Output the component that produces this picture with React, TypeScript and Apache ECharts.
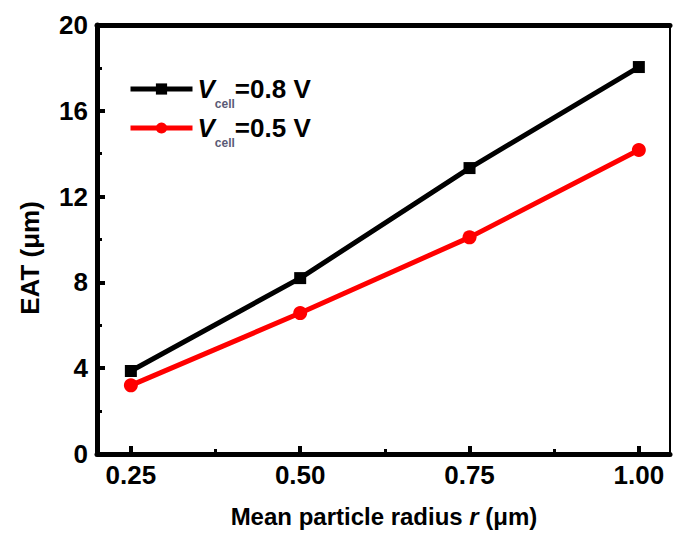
import React, { useEffect, useRef } from "react";
import * as echarts from "echarts";

const radius = [0.25, 0.5, 0.75, 1.0];
const eat08 = [3.87, 8.2, 13.33, 18.04];
const eat05 = [3.2, 6.57, 10.1, 14.17];
const xTickValues = [0.25, 0.5, 0.75, 1.0];
const xMinorValues = [0.375, 0.625, 0.875];
const seriesNames = ["V08", "V05"];
const legendLabels: Record<string, string> = {
  V08: "{v|V}{s|cell}{t|=0.8 V}",
  V05: "{v|V}{s|cell}{t|=0.5 V}",
};

const FONT = "Liberation Sans, Arial, sans-serif";
const X_MIN = 0.2;
const X_MAX = 1.046;

const legendRich = {
  v: { fontSize: 26, fontWeight: "bold", fontStyle: "italic", color: "#000", fontFamily: FONT },
  s: { fontSize: 12, fontWeight: "bold", color: "#5a5a76", fontFamily: FONT, padding: [30, 0, 0, 0] },
  t: { fontSize: 26, fontWeight: "bold", color: "#000", fontFamily: FONT },
};

function makeLegend(name: string, top: number) {
  return {
    left: 128,
    top,
    orient: "vertical",
    itemWidth: 62,
    itemHeight: 14,
    itemGap: 6,
    padding: 0,
    data: [name],
    lineStyle: { width: 5 },
    formatter: (n: string) => legendLabels[n],
    textStyle: { fontFamily: FONT, rich: legendRich },
  };
}

export default function App() {
  const ref = useRef<HTMLDivElement>(null);
  useEffect(() => {
    if (!ref.current) return;
    const chart = echarts.init(ref.current, null, { renderer: "svg" });
    chart.setOption({
      animation: false,
      backgroundColor: "#fff",
      grid: { left: 97, top: 25, right: 3, bottom: 81, containLabel: false },
      legend: [makeLegend(seriesNames[0], 76), makeLegend(seriesNames[1], 115)],
      xAxis: [
        {
          type: "value",
          min: X_MIN,
          max: X_MAX,
          axisLine: { show: true, onZero: false, lineStyle: { color: "#000", width: 5 } },
          splitLine: { show: false },
          axisTick: { inside: true, length: 8, lineStyle: { width: 4, color: "#000" }, customValues: xTickValues },
          axisLabel: {
            customValues: xTickValues,
            formatter: (v: number) => v.toFixed(2),
            margin: 8,
            fontSize: 26,
            fontWeight: "bold",
            color: "#000",
            fontFamily: FONT,
          },
        },
        {
          type: "value",
          position: "bottom",
          min: X_MIN,
          max: X_MAX,
          axisLine: { show: false, onZero: false },
          splitLine: { show: false },
          axisTick: { show: true, inside: true, length: 5, lineStyle: { width: 3, color: "#000" }, customValues: xMinorValues },
          axisLabel: { show: false, customValues: xMinorValues },
        },
        {
          type: "value",
          position: "top",
          min: X_MIN,
          max: X_MAX,
          axisLine: { show: true, onZero: false, lineStyle: { color: "#000", width: 5 } },
          splitLine: { show: false },
          axisTick: { show: false },
          axisLabel: { show: false },
        },
      ],
      yAxis: [
        {
          type: "value",
          position: "left",
          min: 0,
          max: 20,
          interval: 4,
          axisLine: { show: true, onZero: false, lineStyle: { color: "#000", width: 5 } },
          splitLine: { show: false },
          axisTick: { inside: true, length: 8, lineStyle: { width: 4, color: "#000" } },
          minorTick: { show: true, splitNumber: 2, length: 5, lineStyle: { width: 3, color: "#000" } },
          axisLabel: {
            margin: 9,
            fontSize: 26,
            fontWeight: "bold",
            color: "#000",
            fontFamily: FONT,
          },
        },
        {
          type: "value",
          position: "right",
          min: 0,
          max: 20,
          axisLine: { show: true, onZero: false, lineStyle: { color: "#000", width: 2 } },
          splitLine: { show: false },
          axisTick: { show: false },
          axisLabel: { show: false },
        },
      ],
      series: [
        {
          name: seriesNames[0],
          type: "line",
          data: radius.map((r, i) => [r, eat08[i]]),
          symbol: "rect",
          symbolSize: 12,
          lineStyle: { color: "#000", width: 5 },
          itemStyle: { color: "#000" },
        },
        {
          name: seriesNames[1],
          type: "line",
          data: radius.map((r, i) => [r, eat05[i]]),
          symbol: "circle",
          symbolSize: 14,
          lineStyle: { color: "#ff0000", width: 5 },
          itemStyle: { color: "#ff0000" },
        },
      ],
      graphic: [
        {
          type: "text",
          x: 384,
          y: 516,
          style: {
            text: "{n|Mean particle radius }{i|r}{n| (μm)}",
            align: "center",
            verticalAlign: "middle",
            rich: {
              n: { fontSize: 24, fontWeight: "bold", fontFamily: FONT, fill: "#000" },
              i: { fontSize: 24, fontWeight: "bold", fontStyle: "italic", fontFamily: FONT, fill: "#000" },
            },
          },
        },
        {
          type: "text",
          x: 30,
          y: 258,
          rotation: Math.PI / 2,
          style: {
            text: "EAT (μm)",
            fontSize: 26,
            fontWeight: "bold",
            fontFamily: FONT,
            fill: "#000",
            align: "center",
            verticalAlign: "middle",
          },
        },
      ],
    });
    return () => chart.dispose();
  }, []);
  return (
    <div
      ref={ref}
      style={{ position: "absolute", left: 0, top: 0, width: 673, height: 535 }}
    />
  );
}
